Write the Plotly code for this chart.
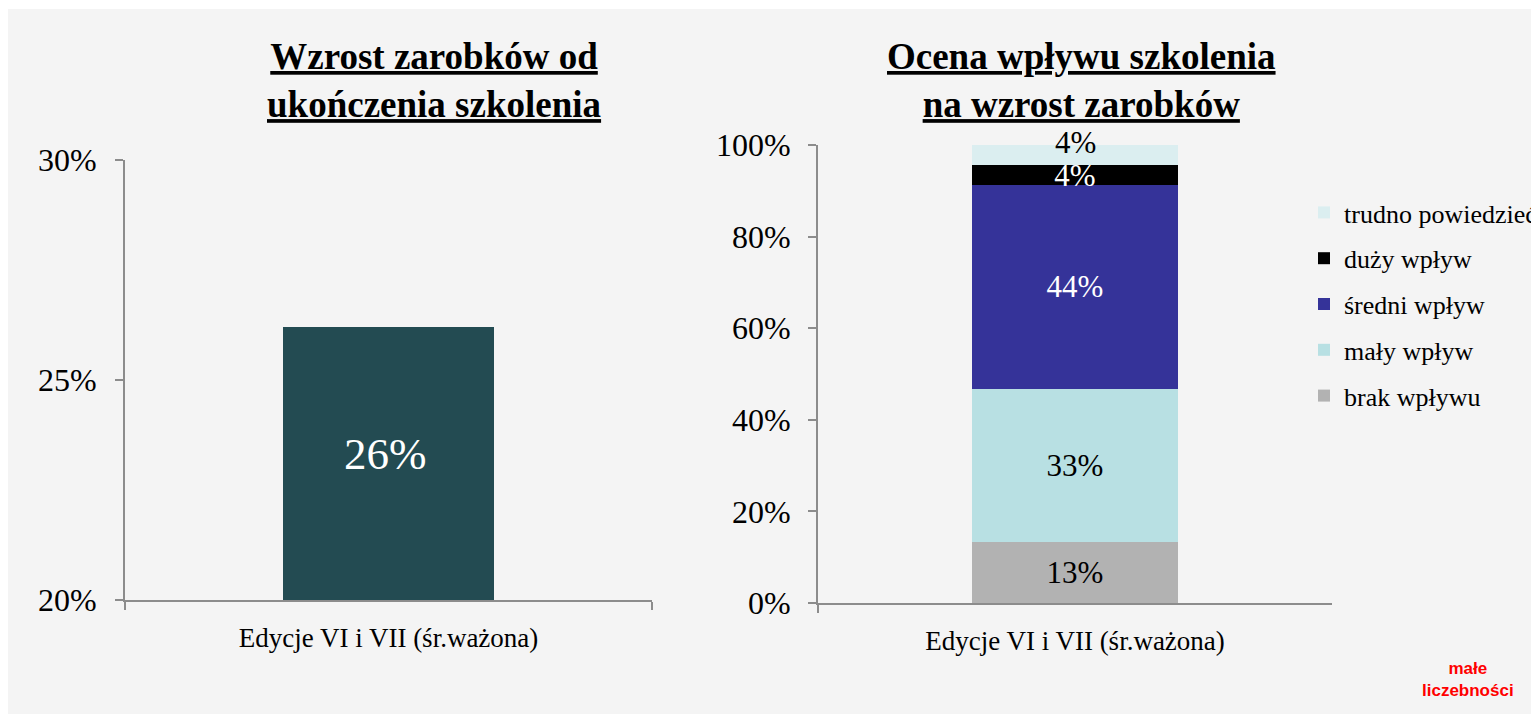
import plotly.graph_objects as go

W, H = 1531, 714

# ---- data ----
category = ["Edycje VI i VII (śr.ważona)"]
growth_values = [26.2]

impact_names = ["brak wpływu", "mały wpływ", "średni wpływ", "duży wpływ", "trudno powiedzieć"]
impact_values = [13.4, 33.4, 44.4, 4.4, 4.4]
impact_colors = ["#b2b2b2", "#b8e0e3", "#353399", "#000000", "#dbeef0"]
impact_text_colors = ["#000000", "#000000", "#ffffff", "#ffffff", "#000000"]

left_ticks = [20, 25, 30]
left_ticktext = ["20%", "25%", "30%"]
right_ticks = [0, 20, 40, 60, 80, 100]
right_ticktext = ["0%", "20%", "40%", "60%", "80%", "100%"]

title_left = ["Wzrost zarobków od", "ukończenia szkolenia"]
title_right = ["Ocena wpływu szkolenia", "na wzrost zarobków"]
note_text = ["małe", "liczebności"]

SERIF = "Liberation Serif, Times New Roman, serif"
AXIS_COLOR = "#8c8c8c"

def px_x(x):
    return x / W

def px_y(y):
    return 1 - y / H

fig = go.Figure()

fig.add_trace(go.Bar(
    x=category, y=growth_values, width=0.4,
    marker=dict(color="#234b52", line=dict(width=0)),
    showlegend=False, xaxis="x", yaxis="y", hoverinfo="skip",
))

annotations = []
n = len(impact_names)
cum = 0.0
for i, (name, val, col, tcol) in enumerate(zip(impact_names, impact_values, impact_colors, impact_text_colors)):
    last = i == n - 1
    fig.add_trace(go.Bar(
        x=category, y=[val], name=name, width=0.4,
        marker=dict(color=col, line=dict(width=0)),
        text=None if last else [val],
        texttemplate=None if last else "%{y:.0f}%",
        textposition="inside",
        insidetextanchor="middle", constraintext="none",
        textfont=dict(family=SERIF, size=31, color=tcol),
        legendgroup=name, legendrank=n - i,
        xaxis="x2", yaxis="y2", hoverinfo="skip",
    ))
    if last:
        annotations.append(dict(
            text=f"{val:.0f}%", x=category[0], y=cum + val / 2, xref="x2", yref="y2",
            yshift=13, showarrow=False,
            font=dict(size=31, family=SERIF, color=tcol),
            xanchor="center", yanchor="middle"))
    cum += val

axis_common = dict(
    showline=True, linecolor=AXIS_COLOR, linewidth=2,
    ticks="outside", tickcolor=AXIS_COLOR, ticklen=8, tickwidth=2,
    showgrid=False, zeroline=False, automargin=False,
)

def title_html(lines):
    return "<br>".join("<b><u>" + ln + "</u></b>" for ln in lines)

annotations += [
    dict(text=f"{growth_values[0]:.0f}%", x=category[0], y=(20 + growth_values[0]) / 2,
         xref="x", yref="y", yshift=10, xshift=-3, showarrow=False,
         font=dict(size=45, family=SERIF, color="#ffffff"),
         xanchor="center", yanchor="middle"),
    dict(text=title_html(title_left),
         x=px_x(434), y=px_y(80), xref="paper", yref="paper",
         showarrow=False, font=dict(size=37, family=SERIF, color="#000000"),
         xanchor="center", yanchor="middle", align="center"),
    dict(text=title_html(title_right),
         x=px_x(1081), y=px_y(80), xref="paper", yref="paper",
         showarrow=False, font=dict(size=37, family=SERIF, color="#000000"),
         xanchor="center", yanchor="middle", align="center"),
    dict(text="<br>".join("<b>" + t + "</b>" for t in note_text),
         x=px_x(1468), y=px_y(679), xref="paper", yref="paper",
         showarrow=False, font=dict(size=17, family="Liberation Sans, Arial, sans-serif",
                                    color="#ff0000"),
         xanchor="center", yanchor="middle", align="center"),
]

fig.update_layout(
    width=W, height=H,
    margin=dict(l=0, r=0, t=0, b=0, pad=0, autoexpand=False),
    paper_bgcolor="#ffffff", plot_bgcolor="rgba(0,0,0,0)",
    barmode="stack",
    font=dict(family=SERIF, color="#000000"),
    xaxis=dict(domain=[px_x(125), px_x(652)], range=[-0.5, 0.5], anchor="y",
               tickson="boundaries", tickfont=dict(size=27, family=SERIF),
               ticklabelstandoff=13, **axis_common),
    yaxis=dict(domain=[px_y(600), px_y(160)], range=[20, 30], anchor="x",
               tickmode="array", tickvals=left_ticks, ticktext=left_ticktext,
               tickfont=dict(size=32, family=SERIF), ticklabelstandoff=12,
               **axis_common),
    xaxis2=dict(domain=[px_x(818), px_x(1332)], range=[-0.5, 0.5], anchor="y2",
                tickson="boundaries", tickfont=dict(size=27, family=SERIF),
                ticklabelstandoff=13, **axis_common),
    yaxis2=dict(domain=[px_y(603), px_y(145)], range=[0, 100], anchor="x2",
                tickmode="array", tickvals=right_ticks, ticktext=right_ticktext,
                tickfont=dict(size=32, family=SERIF), ticklabelstandoff=11,
                **axis_common),
    legend=dict(x=px_x(1304), y=px_y(189), xanchor="left", yanchor="top",
                traceorder="grouped", tracegroupgap=9,
                font=dict(size=26, family=SERIF, color="#000000"),
                bgcolor="rgba(0,0,0,0)", itemwidth=30),
    shapes=[dict(type="rect", xref="paper", yref="paper",
                 x0=px_x(8), x1=1.01, y0=-0.01, y1=px_y(9),
                 fillcolor="#f4f4f4", line=dict(width=0), layer="below")],
    annotations=annotations,
)

fig.write_html(
    "out.html",
    config={"displayModeBar": False},
    post_script="document.body.style.margin='0';document.body.style.overflow='hidden';",
)
